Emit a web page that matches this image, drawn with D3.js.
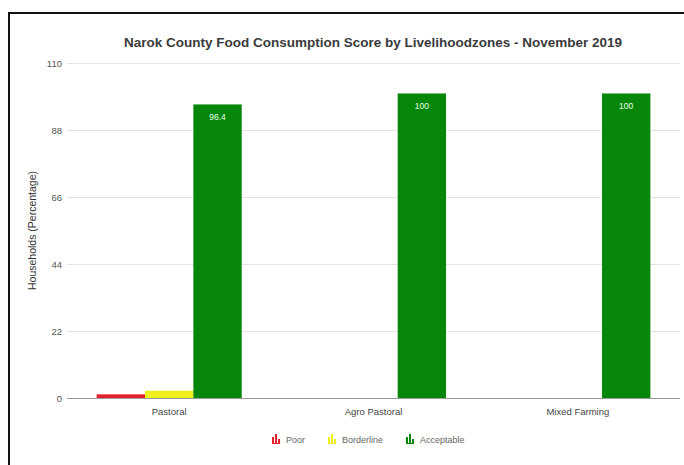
<!DOCTYPE html>
<html>
<head>
<meta charset="utf-8">
<script src="https://cdn.jsdelivr.net/npm/d3@7"></script>
<style>
  html, body { margin: 0; padding: 0; background: #fff; overflow: hidden; }
  svg { display: block; }
  text { font-family: "Liberation Sans", Arial, sans-serif; }
</style>
</head>
<body>
<svg id="chart" width="684" height="465"></svg>
<script>
const categories = ["Pastoral", "Agro Pastoral", "Mixed Farming"];
const seriesNames = ["Poor", "Borderline", "Acceptable"];
const poorValues = [1.2, 0, 0];
const borderlineValues = [2.4, 0, 0];
const acceptableValues = [96.4, 100, 100];
const yTicks = [0, 22, 44, 66, 88, 110];
const seriesColors = ["#e3202b", "#f0f01e", "#07870a"];
const title = "Narok County Food Consumption Score by Livelihoodzones - November 2019";
const yTitle = "Households (Percentage)";

const seriesValues = [poorValues, borderlineValues, acceptableValues];
const rows = categories.map((c, i) => ({
  category: c,
  values: seriesNames.map((s, j) => ({ series: s, value: seriesValues[j][i], color: seriesColors[j] }))
}));

const svg = d3.select("#chart");

// frame (top and left edges visible)
svg.append("line").attr("x1", 9).attr("x2", 9).attr("y1", 12).attr("y2", 465)
  .attr("stroke", "#111").attr("stroke-width", 2);
svg.append("line").attr("x1", 8).attr("x2", 684).attr("y1", 13).attr("y2", 13)
  .attr("stroke", "#111").attr("stroke-width", 2);

const plot = { left: 67, right: 680, top: 63, bottom: 398 };

const x0 = d3.scaleBand().domain(categories)
  .range([plot.left, plot.right]).paddingInner(0.29).paddingOuter(0.145);
const x1 = d3.scaleBand().domain(seriesNames).range([0, x0.bandwidth()]);
const y = d3.scaleLinear().domain([0, 110]).range([plot.bottom, plot.top]);

// title
svg.append("text")
  .attr("x", 373).attr("y", 47)
  .attr("text-anchor", "middle")
  .attr("font-size", 13.5).attr("font-weight", "bold")
  .attr("fill", "#3a3a3a")
  .text(title);

// grid + y axis
const yAxis = d3.axisLeft(y).tickValues(yTicks).tickSize(-(plot.right - plot.left)).tickPadding(5);
const gy = svg.append("g").attr("transform", `translate(${plot.left},0)`).call(yAxis);
gy.select(".domain").remove();
gy.selectAll(".tick line").attr("stroke", d => d === 0 ? "#9a9a9a" : "#e4e4e4").attr("stroke-width", 1);
gy.selectAll(".tick text").attr("font-size", 9.5).attr("fill", "#555").attr("font-family", "Liberation Sans, Arial, sans-serif");

// y axis title
svg.append("text")
  .attr("transform", `translate(36,${(plot.top + plot.bottom) / 2}) rotate(-90)`)
  .attr("text-anchor", "middle")
  .attr("font-size", 10.5).attr("fill", "#333")
  .text(yTitle);

// bars
const groups = svg.append("g").selectAll("g").data(rows).join("g")
  .attr("transform", d => `translate(${x0(d.category)},0)`);
groups.selectAll("rect").data(d => d.values.filter(v => v.value > 0)).join("rect")
  .attr("x", d => x1(d.series))
  .attr("width", x1.bandwidth())
  .attr("y", d => y(d.value))
  .attr("height", d => y(0) - y(d.value))
  .attr("fill", d => d.color);

// bar labels for acceptable
groups.selectAll("text.lbl").data(d => d.values.filter(v => v.series === "Acceptable")).join("text")
  .attr("class", "lbl")
  .attr("x", d => x1(d.series) + x1.bandwidth() / 2)
  .attr("y", d => y(d.value) + 16)
  .attr("text-anchor", "middle")
  .attr("font-size", 8.5).attr("fill", "#e8ffe8")
  .text(d => d.value);

// x axis labels
const xAxis = d3.axisBottom(x0).tickSize(0).tickPadding(10);
const gx = svg.append("g").attr("transform", `translate(0,${plot.bottom})`).call(xAxis);
gx.select(".domain").remove();
gx.selectAll(".tick text").attr("font-size", 9.5).attr("fill", "#444").attr("font-family", "Liberation Sans, Arial, sans-serif");

// legend
const legendX = [272, 328, 406];
const leg = svg.append("g").selectAll("g").data(seriesNames).join("g")
  .attr("transform", (d, i) => `translate(${legendX[i]},440)`);
leg.each(function(d, i) {
  const g = d3.select(this);
  [[0, 6], [3, 9], [6, 4]].forEach(([bx, h]) => {
    g.append("rect").attr("x", bx).attr("y", 3 - h).attr("width", 2).attr("height", h).attr("fill", seriesColors[i]);
  });
  g.append("rect").attr("x", 0).attr("y", 3).attr("width", 8).attr("height", 1).attr("fill", seriesColors[i]);
  g.append("text").attr("x", 14).attr("y", 3).attr("font-size", 9).attr("fill", "#666").text(d);
});
</script>
</body>
</html>
